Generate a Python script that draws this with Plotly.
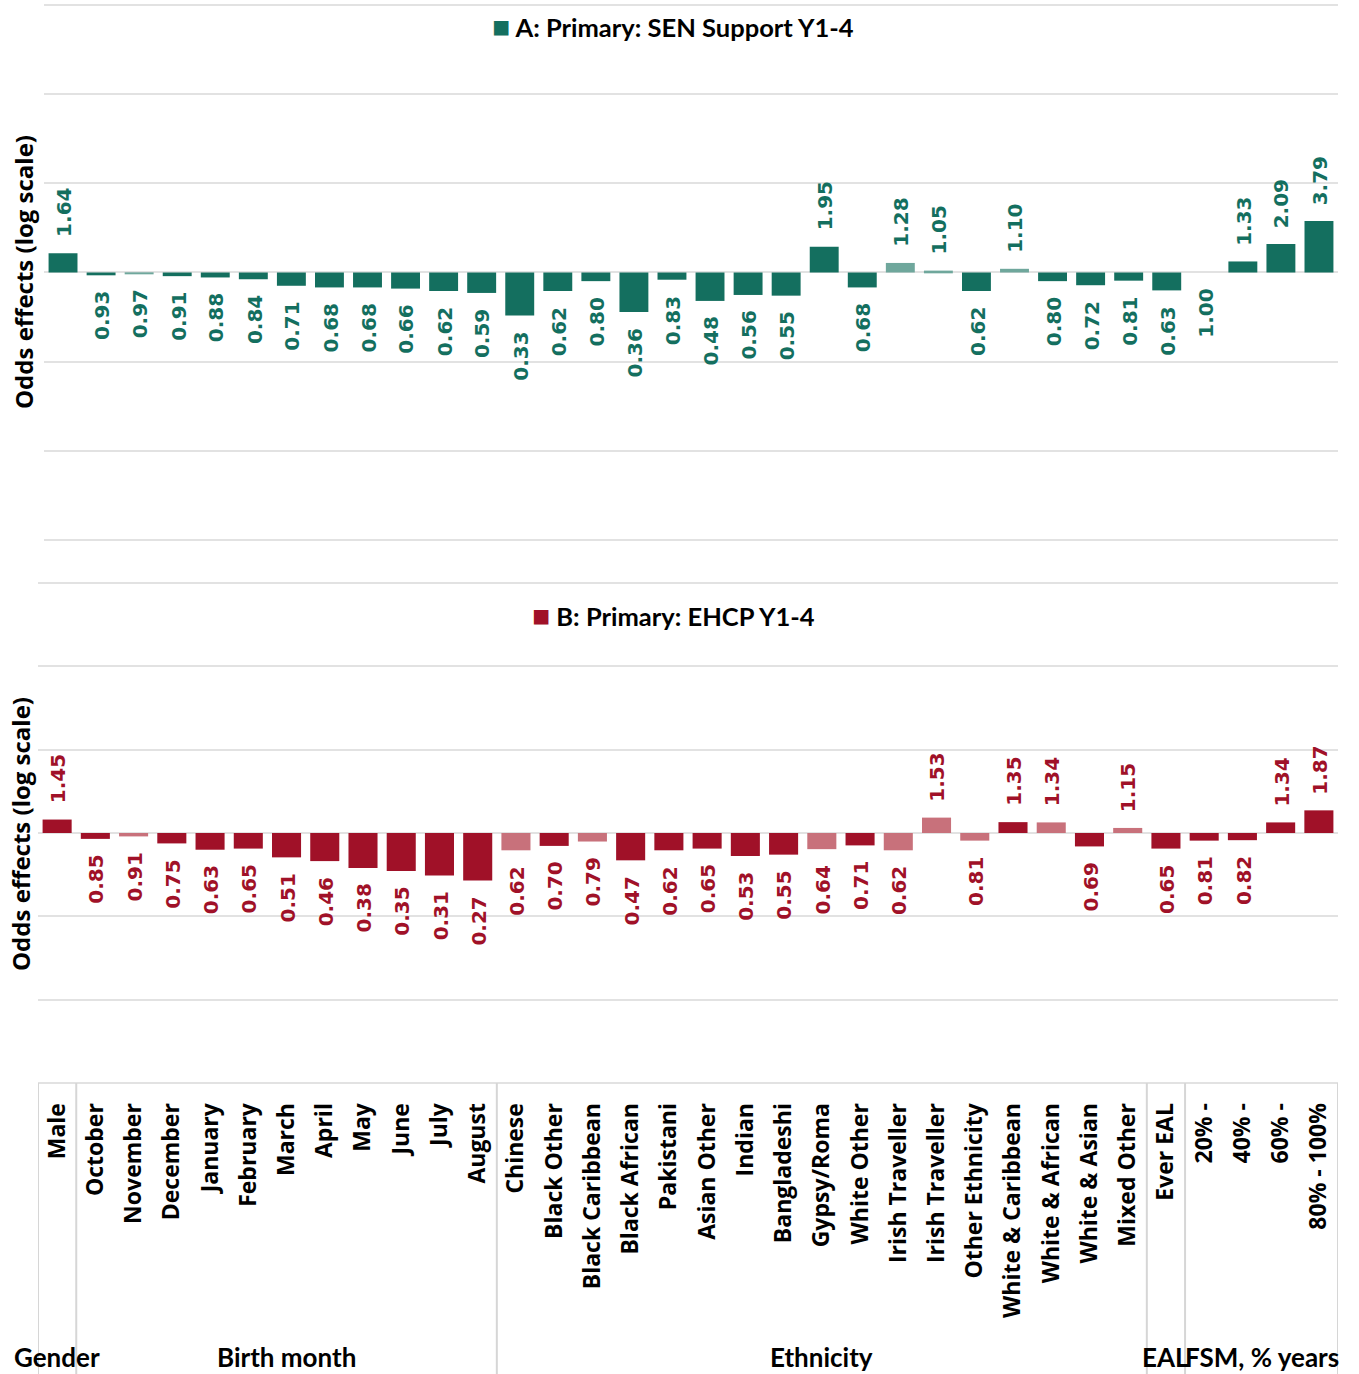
import math
import plotly.graph_objects as go

# ---- data -------------------------------------------------------------
categories = [
    "Male",
    "October", "November", "December", "January", "February", "March",
    "April", "May", "June", "July", "August",
    "Chinese", "Black Other", "Black Caribbean", "Black African", "Pakistani",
    "Asian Other", "Indian", "Bangladeshi", "Gypsy/Roma", "White Other",
    "Irish Traveller", "Irish Traveller", "Other Ethnicity", "White & Caribbean",
    "White & African", "White & Asian", "Mixed Other",
    "Ever EAL",
    "20% -", "40% -", "60% -", "80% - 100%",
]
group_names = ["Gender", "Birth month", "Ethnicity", "EAL", "FSM, % years"]
group_sizes = [1, 11, 17, 1, 4]

sen_support = [
    1.64,
    0.93, 0.97, 0.91, 0.88, 0.84, 0.71, 0.68, 0.68, 0.66, 0.62, 0.59,
    0.33, 0.62, 0.80, 0.36, 0.83, 0.48, 0.56, 0.55, 1.95, 0.68,
    1.28, 1.05, 0.62, 1.10, 0.80, 0.72, 0.81,
    0.63,
    1.00, 1.33, 2.09, 3.79,
]
# 1 = not significant (drawn in the pale shade)
sen_support_faded = [
    0,
    0, 1, 0, 0, 0, 0, 0, 0, 0, 0, 0,
    0, 0, 0, 0, 0, 0, 0, 0, 0, 0,
    1, 1, 0, 1, 0, 0, 0,
    0,
    0, 0, 0, 0,
]

ehcp = [
    1.45,
    0.85, 0.91, 0.75, 0.63, 0.65, 0.51, 0.46, 0.38, 0.35, 0.31, 0.27,
    0.62, 0.70, 0.79, 0.47, 0.62, 0.65, 0.53, 0.55, 0.64, 0.71,
    0.62, 1.53, 0.81, 1.35, 1.34, 0.69, 1.15,
    0.65,
    0.81, 0.82, 1.34, 1.87,
]
ehcp_faded = [
    0,
    0, 1, 0, 0, 0, 0, 0, 0, 0, 0, 0,
    1, 0, 1, 0, 0, 0, 0, 0, 1, 0,
    1, 1, 1, 0, 1, 0, 1,
    0,
    0, 0, 0, 0,
]

panel_titles = ["A: Primary: SEN Support Y1-4", "B: Primary: EHCP Y1-4"]

# ---- styling ----------------------------------------------------------
W, H = 1359, 1374
GREEN, GREEN_PALE = "#146f5f", "#6fa79c"
RED, RED_PALE = "#a01128", "#c8717b"
GRID = "#e2e2e2"
LABEL_FONT = "DejaVu Sans"
TICK_FONT = "Open Sans"
HEAD_FONT = "Lato"
PAD = 0.03  # decades of head-room so the edge gridlines are kept


def fx(px):
    return px / W


def fy(px):
    return 1 - px / H


x_pos = list(range(len(categories)))

fig = go.Figure()

panels = [
    dict(values=sen_support, faded=sen_support_faded, dark=GREEN, pale=GREEN_PALE,
         xa="x", ya="y", title=panel_titles[0]),
    dict(values=ehcp, faded=ehcp_faded, dark=RED, pale=RED_PALE,
         xa="x2", ya="y2", title=panel_titles[1]),
]

annotations = []
for p in panels:
    colors = [p["pale"] if f else p["dark"] for f in p["faded"]]
    # bars run from the reference odds of 1 to each odds ratio
    fig.add_trace(go.Bar(
        x=x_pos, y=[v - 1 for v in p["values"]], base=1,
        marker=dict(color=colors, line=dict(width=0)),
        xaxis=p["xa"], yaxis=p["ya"], showlegend=False,
        customdata=p["values"], text=categories, textposition="none",
        hovertemplate="%{text}: %{customdata:.2f}<extra></extra>",
    ))
    # value labels: above bars > 1, below bars <= 1
    for xi, v in zip(x_pos, p["values"]):
        up = v > 1
        annotations.append(dict(
            x=xi, y=math.log10(v), xref=p["xa"], yref=p["ya"],
            text=f"{v:.2f}", textangle=-90, showarrow=False,
            xanchor="center", yanchor="bottom" if up else "top",
            yshift=14 if up else -14, xshift=1,
            font=dict(family=LABEL_FONT, size=20, color=p["dark"], weight="bold"),
        ))

# panel headers with colour key
header_y = [25, 614]
for p, hy in zip(panels, header_y):
    annotations.append(dict(
        x=fx(673), y=fy(hy), xref="paper", yref="paper",
        text=(f'<span style="color:{p["dark"]};font-size:30px">■</span>'
              f' {p["title"]}'),
        showarrow=False, xanchor="center", yanchor="middle",
        font=dict(family=HEAD_FONT, size=25.5, color="#000000", weight="bold"),
    ))

# axis titles
for (tx, ty) in [(24, 272), (20, 834)]:
    annotations.append(dict(
        x=fx(tx), y=fy(ty), xref="paper", yref="paper",
        text="Odds effects (log scale)", textangle=-90, showarrow=False,
        xanchor="center", yanchor="middle",
        font=dict(family=TICK_FONT, size=24, color="#000000", weight="bold"),
    ))

# group labels and separators beneath the category axis
shapes = []
start = 0
bounds = [-0.5]
for name, size in zip(group_names, group_sizes):
    centre = start + (size - 1) / 2
    annotations.append(dict(
        x=centre, y=fy(1357), xref="x2", yref="paper",
        text=name, showarrow=False, xanchor="center", yanchor="middle",
        font=dict(family=HEAD_FONT, size=26, color="#000000", weight="bold"),
    ))
    start += size
    bounds.append(start - 0.5)

for b in bounds:
    shapes.append(dict(
        type="line", xref="x2", yref="paper",
        x0=b, x1=b, y0=0, y1=fy(1083),
        line=dict(color="#d6d6d6", width=2),
    ))

log_ticks = [0.001, 0.01, 0.1, 1, 10, 100, 1000]
yaxis_common = dict(
    type="log", range=[-3 - PAD, 3 + PAD], tickvals=log_ticks,
    showticklabels=False, showgrid=True, gridcolor=GRID, gridwidth=2,
    zeroline=False, showline=False, ticks="",
)
xaxis_common = dict(
    range=[-0.5, len(categories) - 0.5], showgrid=False, zeroline=False,
    showline=False, ticks="",
)

# each panel spans six decades; pad the domains so the gridlines land on
# the intended pixel rows
top_px = (5, 540)
bot_px = (583, 1083)
top_pad = (top_px[1] - top_px[0]) / 6 * PAD
bot_pad = (bot_px[1] - bot_px[0]) / 6 * PAD

fig.update_layout(
    width=W, height=H,
    margin=dict(l=0, r=0, t=0, b=0),
    paper_bgcolor="#ffffff", plot_bgcolor="#ffffff",
    bargap=0.24,
    showlegend=False,
    xaxis=dict(domain=[fx(44), fx(1338)], anchor="y", showticklabels=False,
               **xaxis_common),
    yaxis=dict(domain=[fy(top_px[1] + top_pad), fy(top_px[0] - top_pad)],
               anchor="x", **yaxis_common),
    xaxis2=dict(domain=[fx(38), fx(1338)], anchor="y2",
                tickmode="array", tickvals=x_pos, ticktext=categories,
                tickangle=-90, ticklabelstandoff=int(round(15 - bot_pad)),
                tickfont=dict(family=TICK_FONT, size=23, color="#000000",
                              weight="bold"),
                **xaxis_common),
    yaxis2=dict(domain=[fy(bot_px[1] + bot_pad), fy(bot_px[0] - bot_pad)],
                anchor="x2", **yaxis_common),
    annotations=annotations,
    shapes=shapes,
)

fig.write_html("out.html")
